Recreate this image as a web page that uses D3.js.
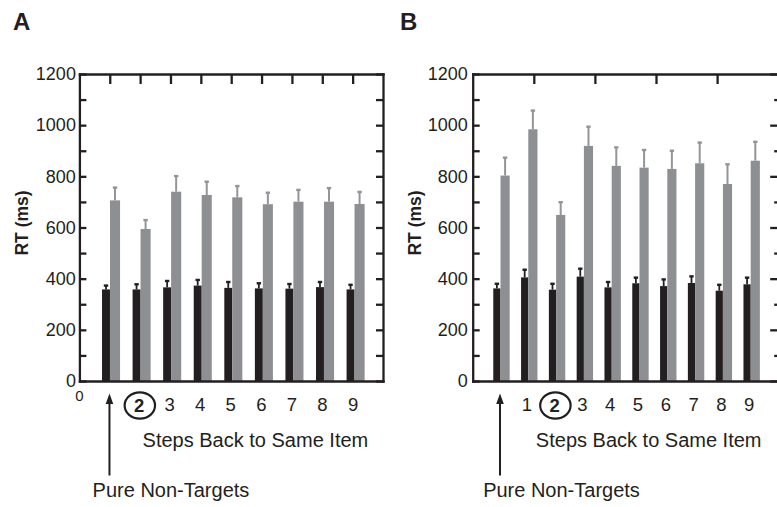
<!DOCTYPE html>
<html><head><meta charset="utf-8">
<script src="https://cdn.jsdelivr.net/npm/d3@7"></script>
<style>
body{margin:0;background:#fff}
text{font-family:"Liberation Sans",Arial,Helvetica,sans-serif;fill:#231f20}
</style>
</head><body>
<svg id="c" width="777" height="507"></svg>
<script>
// ---------- data ----------
const yTickValues = [0,100,200,300,400,500,600,700,800,900,1000,1100,1200];
const yLabelValues = [0,200,400,600,800,1000,1200];

const catsA = ["Pure Non-Targets","2","3","4","5","6","7","8","9"];
const nonTargetA    = [358,358,366,373,364,362,361,367,358];
const nonTargetErrA = [15,20,25,22,23,20,18,20,18];
const targetA       = [706,594,740,727,718,691,701,701,692];
const targetErrA    = [50,35,61,52,44,45,46,53,47];

const catsB = ["Pure Non-Targets","1","2","3","4","5","6","7","8","9"];
const nonTargetB    = [362,405,357,408,366,382,371,383,353,378];
const nonTargetErrB = [18,30,23,31,21,22,26,26,23,26];
const targetB       = [803,984,649,919,841,834,829,851,770,861];
const targetErrB    = [70,73,50,75,72,69,71,81,77,74];

const circledCat = "2";
const yTitle = "RT (ms)";
const xTitle = "Steps Back to Same Item";
const arrowLabel = "Pure Non-Targets";

// ---------- style ----------
const BLACK = "#231f20", GRAY = "#8e8f92";
const svg = d3.select("#c");
const y = d3.scaleLinear().domain([0,1200]).range([381,74]);

function panel(o){
  const g = svg.append("g");
  const n = o.cats.length;
  const x = d3.scaleLinear().domain([0, o.xMax]).range([o.left, o.right]);
  const xTop = d3.scaleLinear().domain([0, 10]).range([o.left, o.left + o.frameW]);
  const unit = x(1) - x(0);
  const bw = unit*0.26, gw = unit*0.33;
  const idx = d3.range(n);

  // bars
  g.selectAll(".nb").data(idx).join("rect")
    .attr("x", i => x(i+1) - bw).attr("width", bw)
    .attr("y", i => y(o.nt[i])).attr("height", i => y(0) - y(o.nt[i]))
    .attr("fill", BLACK);
  g.selectAll(".tb").data(idx).join("rect")
    .attr("x", i => x(i+1)).attr("width", gw)
    .attr("y", i => y(o.t[i])).attr("height", i => y(0) - y(o.t[i]))
    .attr("fill", GRAY);
  // error bars
  function err(vals, errs, cx, color, sw){
    g.selectAll(null).data(idx).join("line")
      .attr("x1", cx).attr("x2", cx)
      .attr("y1", i => y(vals[i])).attr("y2", i => y(vals[i]+errs[i]))
      .attr("stroke", color).attr("stroke-width", sw);
    g.selectAll(null).data(idx).join("line")
      .attr("x1", i => cx(i)-2.2).attr("x2", i => cx(i)+2.2)
      .attr("y1", i => y(vals[i]+errs[i])).attr("y2", i => y(vals[i]+errs[i]))
      .attr("stroke", color).attr("stroke-width", 2.4);
  }
  err(o.nt, o.ntErr, i => x(i+1) - bw/2, BLACK, 1.8);
  err(o.t, o.tErr, i => x(i+1) + gw/2, "#939598", 2);

  const sw = 2.3;
  // left axis
  const left = g.append("g").attr("transform", `translate(${o.left},0)`)
    .call(d3.axisLeft(y).tickValues(yTickValues).tickSizeInner(-7).tickSizeOuter(0).tickPadding(o.pad)
      .tickFormat(d => yLabelValues.includes(d) ? d : ""));
  left.selectAll("text").style("font-size","18px").attr("fill", BLACK);
  // right axis
  const right = g.append("g").attr("transform", `translate(${o.left + o.frameW},0)`)
    .call(d3.axisRight(y).tickValues(yTickValues).tickSizeInner(-7).tickSizeOuter(0).tickFormat(""));
  if (o.minorShort) right.selectAll(".tick line").attr("x2", d => yLabelValues.includes(d) ? -8 : -4);
  // top axis
  g.append("g").attr("transform", `translate(0,${y(1200)})`)
    .call(d3.axisTop(xTop).tickValues(o.topTicks).tickSizeInner(-10).tickSizeOuter(0).tickFormat(""));
  // bottom axis
  g.append("g").attr("transform", `translate(0,${y(0)})`)
    .call(d3.axisBottom(xTop).tickValues([]).tickSizeOuter(0));
  g.selectAll(".domain, .tick line").attr("stroke", BLACK).attr("stroke-width", sw);
  g.selectAll(".domain").attr("stroke-linecap","square");

  // x category labels
  idx.forEach(i => {
    if (i === 0) return;
    const c = o.cats[i];
    const cx = x(i+1) - 1.5;
    if (c === circledCat){
      g.append("ellipse").attr("cx", cx+0.8).attr("cy", 405.5).attr("rx", 15.2).attr("ry", 13.2)
        .attr("fill","none").attr("stroke",BLACK).attr("stroke-width",2.2);
      g.append("text").attr("x", cx).attr("y", 411.5).attr("text-anchor","middle")
        .style("font-size","18.5px").style("font-weight","bold").text(c);
    } else {
      g.append("text").attr("x", cx).attr("y", 410.5).attr("text-anchor","middle")
        .style("font-size","18.5px").text(c);
    }
  });
  if (o.zeroLabel){
    g.append("text").attr("x", o.left).attr("y", 401).attr("text-anchor","middle")
      .style("font-size","15px").text("0");
  }
  // x title
  g.append("text").attr("x", o.left + 176).attr("y", 446.5).attr("text-anchor","middle")
    .style("font-size","20px").text(xTitle);
  // arrow + label
  const ax = x(1) - 0.5;
  g.append("line").attr("x1", ax).attr("x2", ax).attr("y1", 475.5).attr("y2", 402)
    .attr("stroke", BLACK).attr("stroke-width", 2);
  g.append("path").attr("d", `M${ax},393.5 L${ax-3.8},404 L${ax+3.8},404 Z`).attr("fill", BLACK);
  g.append("text").attr("x", ax + 61.5).attr("y", 496.5).attr("text-anchor","middle")
    .style("font-size","20px").text(arrowLabel);
  // y title
  g.append("text").attr("transform", `translate(${o.left - 51.3},223) rotate(-90)`)
    .attr("text-anchor","middle").style("font-size","17.5px").style("font-weight","bold").text(yTitle);
  // panel letter
  g.append("text").attr("x", o.letterX).attr("y", 29.5)
    .style("font-size","24px").style("font-weight","bold").text(o.letter);
}

panel({letter:"A", letterX:13, left:79.4, right:79.4+30.57*9.93, frameW:303.6, xMax:9.93,
  cats:catsA, nt:nonTargetA, ntErr:nonTargetErrA, t:targetA, tErr:targetErrA,
  topTicks:[1,2,3,4,5,6,7,8,9], zeroLabel:true, pad:3.5, minorShort:false});
panel({letter:"B", letterX:400, left:472.7, right:472.7+27.8*11, frameW:305.5, xMax:11,
  cats:catsB, nt:nonTargetB, ntErr:nonTargetErrB, t:targetB, tErr:targetErrB,
  topTicks:[2,4,6,8], zeroLabel:false, pad:5, minorShort:true});
</script>
</body></html>
